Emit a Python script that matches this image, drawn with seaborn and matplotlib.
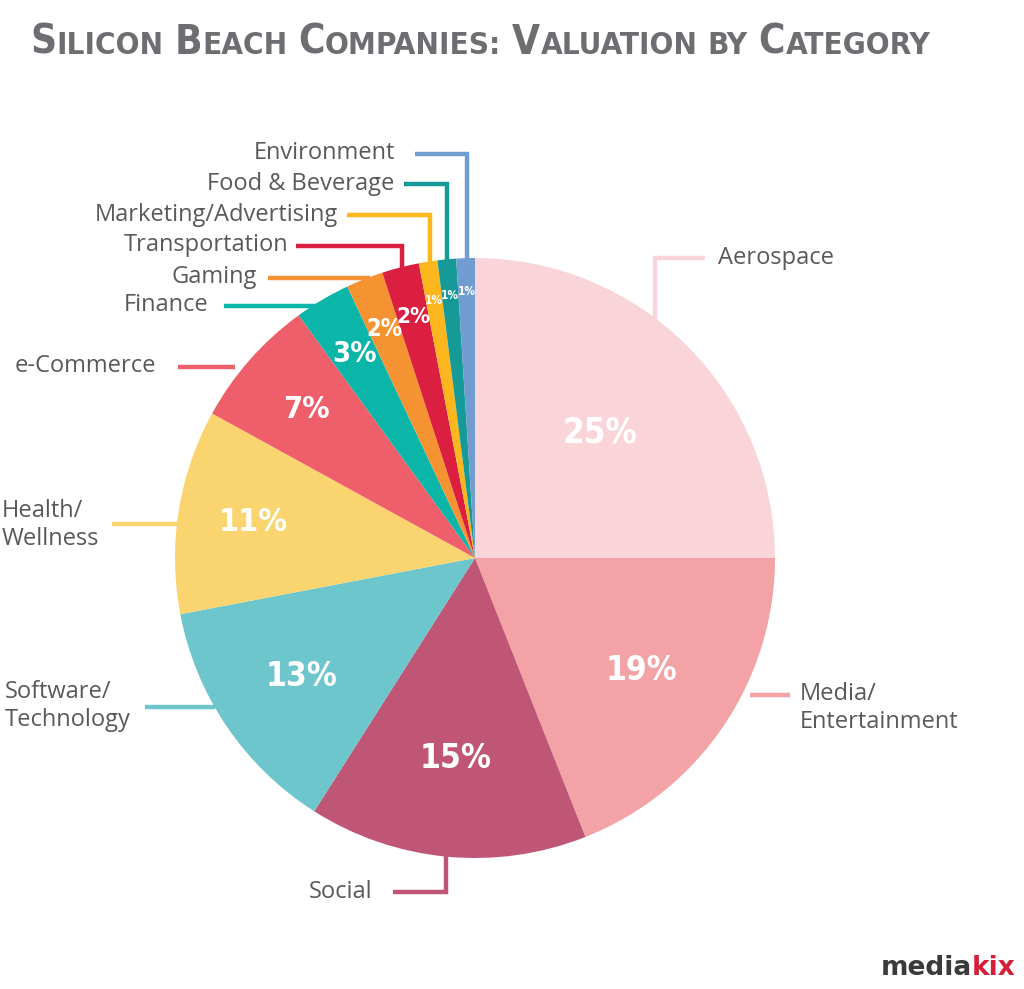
import numpy as np
import matplotlib
matplotlib.use("Agg")
import matplotlib.pyplot as plt
import seaborn as sns

# ---- data ----
categories = ["Aerospace", "Media/\nEntertainment", "Social", "Software/\nTechnology",
              "Health/\nWellness", "e-Commerce", "Finance", "Gaming", "Transportation",
              "Marketing/Advertising", "Food & Beverage", "Environment"]
values = [25, 19, 15, 13, 11, 7, 3, 2, 2, 1, 1, 1]
pct_labels = ["25%", "19%", "15%", "13%", "11%", "7%", "3%", "2%", "2%", "1%", "1%", "1%"]
title_words = ["Silicon", "Beach", "Companies:", "Valuation", "by", "Category"]

# ---- style ----
colors = ["#F9D5DA", "#F3A3A5", "#C05675", "#6DC6CB", "#FAD46E", "#EF5E6B",
          "#0BB5A8", "#F59333", "#DA1F40", "#FCB61E", "#159A97", "#709CD0"]
pct_r = [0.59, 0.67, 0.67, 0.70, 0.75, 0.75, 0.79, 0.82, 0.83, 0.87, 0.88, 0.89]
pct_fs = [25, 24, 24, 24, 23, 22, 21, 17, 16, 8.5, 8.5, 8.5]

sns.set_theme(style="white")
plt.rcParams['font.family'] = ['Open Sans', 'DejaVu Sans']

W, H = 1024, 989
fig = plt.figure(figsize=(W / 100, H / 100), dpi=100)
ax = fig.add_axes([0, 0, 1, 1])

def Y(py):
    return H - py

cx, cy, R = 475, Y(558), 300
wedges, _ = ax.pie(values, colors=colors, startangle=90, counterclock=False,
                   center=(cx, cy), radius=R, frame=True,
                   wedgeprops=dict(linewidth=0, zorder=3))
ax.set_xlim(0, W)
ax.set_ylim(0, H)
ax.set_aspect("equal")
ax.axis("off")

cond = dict(family=["DejaVu Sans"], fontstretch="condensed")

for w, lab, r, fs in zip(wedges, pct_labels, pct_r, pct_fs):
    ang = np.deg2rad((w.theta1 + w.theta2) / 2)
    x = cx + R * r * np.cos(ang)
    y = cy + R * r * np.sin(ang)
    ax.text(x, y, lab, color="white", fontsize=fs, fontweight="bold",
            ha="center", va="center", zorder=5, **cond)

# leader lines (pixel coords, drawn behind the pie)
txtc = "#58595B"
leaders = [
    ([655, 655, 705], [330, 258, 258], 718, 258, "left"),
    ([750, 790], [695, 695], 800, 708, "left"),
    ([446, 446, 393], [840, 892, 892], 372, 892, "right"),
    ([145, 215], [707, 707], 5, 706, "left"),
    ([112, 190], [524, 524], 2, 525, "left"),
    ([178, 235], [367, 367], 15, 366, "left"),
    ([224, 330], [306, 306], 209, 305, "right"),
    ([268, 370], [278, 278], 257, 277, "right"),
    ([296, 402, 402], [246, 246, 280], 288, 245, "right"),
    ([347, 430, 430], [215, 215, 280], 338, 215, "right"),
    ([404, 447, 447], [184, 184, 280], 394, 184, "right"),
    ([415, 467, 467], [154, 154, 280], 395, 153, "right"),
]
for (xs, ys, tx, ty, ha), c, lab in zip(leaders, colors, categories):
    ax.plot(xs, [Y(v) for v in ys], color=c, lw=3.2, zorder=2,
            solid_capstyle="butt", solid_joinstyle="miter")
    ax.text(tx, Y(ty), lab, color=txtc, fontsize=17, ha=ha, va="center",
            linespacing=1.25, zorder=4)

# title in small caps: larger initial capitals, smaller remaining capitals
fig.canvas.draw()
renderer = fig.canvas.get_renderer()
big, small = 29, 22.5
x0 = 30 / W
ybase = 1 - 54 / H
for i, word in enumerate(title_words):
    pieces = []
    if word[0].isupper():
        pieces.append((word[0], big))
        rest = word[1:]
    else:
        rest = word
    if rest:
        pieces.append((rest.upper(), small))
    if i < len(title_words) - 1:
        pieces.append((" ", small))
    for txt, fs in pieces:
        t = fig.text(x0, ybase, txt, fontsize=fs, fontweight="bold", color="#6D6E71",
                     ha="left", va="baseline", **cond)
        bb = t.get_window_extent(renderer=renderer)
        if txt == " ":
            x0 += (fs * 0.32 * 100 / 72) / W
        else:
            x0 += bb.width / W + 0.5 / W

# logo
ax.text(972, Y(968), "media", fontsize=19, fontweight="bold", color="#3A3A3A",
        family=["DejaVu Sans"], ha="right", va="center")
ax.text(972, Y(968), "kix", fontsize=19, fontweight="bold", color="#D31F3A",
        family=["DejaVu Sans"], ha="left", va="center")

fig.savefig("out.png", dpi=100, facecolor="white")
